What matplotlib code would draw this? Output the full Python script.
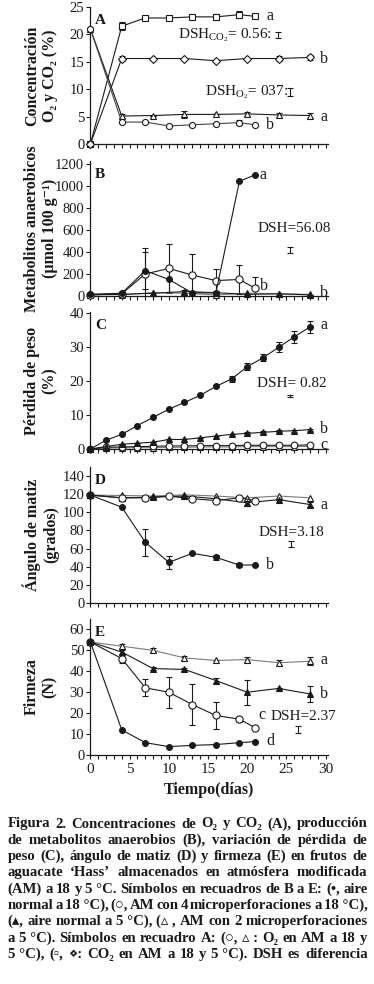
import matplotlib
matplotlib.use('Agg')
import matplotlib.pyplot as plt

plt.rcParams['font.family'] = ['Liberation Serif', 'DejaVu Serif', 'DejaVu Sans']
plt.rcParams['mathtext.fontset'] = 'custom'
plt.rcParams['mathtext.rm'] = 'Liberation Serif'
plt.rcParams['mathtext.it'] = 'Liberation Serif:italic'
plt.rcParams['mathtext.bf'] = 'Liberation Serif:bold'

INK = '#1a1a1a'
GRAY = '#7a7a7a'

# ---------------- data ----------------
days18 = [0, 4, 7, 10, 13, 16, 19, 21]
days5 = [0, 4, 8, 12, 16, 20, 24, 28]
daysC = [0, 2, 4, 6, 8, 10, 12, 14, 16, 18, 20, 22, 24, 26, 28]

# Panel A: O2 and CO2 (%)
A_co2_18 = [0, 21.5, 23.0, 23.0, 23.2, 23.2, 23.6, 23.3]
A_co2_18_err = [0, 0.7, 0, 0, 0, 0.5, 0.6, 0]
A_co2_5 = [0, 15.6, 15.6, 15.6, 15.2, 15.6, 15.6, 15.8]
A_co2_5_err = [0, 0.5, 0, 0, 0, 0, 0.5, 0.5]
A_o2_5 = [21.0, 5.1, 5.2, 5.4, 5.4, 5.5, 5.3, 5.2]
A_o2_5_err = [0, 0.3, 0, 0.6, 0, 0.3, 0.4, 0.4]
A_o2_18 = [21.0, 4.0, 4.0, 3.3, 3.5, 3.7, 3.9, 3.5]
A_o2_18_err = [0, 0, 0, 0, 0, 0, 0.4, 0]

# Panel B: anaerobic metabolites
B_air18 = [15, 25, 230, 150, 28, 28, 1040, 1100]
B_air18_err = [0, 0, 165, 110, 20, 20, 0, 0]
B_map18 = [10, 20, 200, 250, 190, 140, 150, 70]
B_map18_err = [0, 0, 240, 220, 195, 105, 135, 105]
B_air5 = [15, 15, 25, 40, 30, 15, 20, 10]
B_air5_err = [0, 0, 0, 15, 0, 0, 10, 0]
B_map5 = [10, 12, 30, 25, 10, 25, 20, 15]

# Panel C: weight loss (%)
C_air18 = [0, 2.6, 4.3, 6.9, 9.3, 11.7, 13.7, 15.8, 18.4, 20.6, 24.2, 26.8, 29.9, 33.0, 35.9]
C_air18_err = [0, 0, 0, 0, 0, 0, 0, 0, 0, 0.8, 1.0, 1.0, 1.5, 1.8, 1.8]
C_air5 = [0, 0.7, 1.4, 1.7, 2.0, 2.8, 2.8, 3.3, 3.8, 4.3, 4.6, 4.9, 5.2, 5.4, 5.7]
C_air5_err = [0, 0, 0, 0, 0, 0, 0, 0, 0, 0, 0.3, 0.3, 0.3, 0.3, 0.3]
C_map18 = [0, 0.5, 0.6, 0.7, 0.8, 0.9, 0.9, 1.0, 1.0, 1.0, 1.1, 1.1, 1.1, 1.1, 1.2]
C_map5 = [0, 0.3, 0.3, 0.4, 0.4, 0.5, 0.5, 0.6, 0.6, 0.6, 0.7, 0.7, 0.7, 0.7, 0.8]

# Panel D: hue angle
D_air18 = [119, 105.7, 67, 44.8, 54.8, 50.4, 41.8, 42]
D_air18_err = [0, 0, 15, 7, 0, 2.5, 2, 0]
D_map18 = [119, 116, 116, 117.9, 115, 113, 116, 113]
D_map5 = [119, 118.6, 118, 119.3, 118, 116, 118, 116]
D_air5 = [119, 116, 116.8, 118, 115, 110.5, 114, 108.6]
D_air5_err = [0, 0, 0, 0, 0, 3, 0, 3]

# Panel E: firmness (N)
E_map5 = [54, 52, 50, 46.4, 45.2, 45.6, 44.1, 44.8]
E_map5_err = [0, 1.2, 1, 1, 0, 1.2, 1.3, 2]
E_air5 = [54, 49.2, 41.3, 40.9, 35.6, 30.0, 31.8, 29.2]
E_air5_err = [0, 1.2, 0.8, 0.8, 1.2, 6, 0, 3.8]
E_map18 = [54, 46.1, 32.1, 30.0, 24.1, 18.9, 17.1, 13.1]
E_map18_err = [0, 2, 4, 7.5, 9.6, 6.5, 1.2, 0]
E_air18 = [54, 12, 5.9, 4.0, 4.6, 5.0, 5.9, 6.4]

panel_letters = ['A', 'B', 'C', 'D', 'E']
ylabels = ['Concentración\nO₂ y CO₂ (%)',
           'Metabolitos anaerobicos\n(µmol 100 g⁻¹)',
           'Pérdida de peso\n(%)',
           'Ángulo de matiz\n(grados)',
           'Firmeza\n(N)']
yticks = [[0, 5, 10, 15, 20, 25],
          [0, 200, 400, 600, 800, 1000, 1200],
          [0, 10, 20, 30, 40],
          [0, 20, 40, 60, 80, 100, 120, 140],
          [0, 10, 20, 30, 40, 50, 60]]
ylims = [(0, 25), (0, 1225), (0, 40.3), (0, 150), (0, 65)]
xticks_major = [0, 5, 10, 15, 20, 25, 30]
xlabel = 'Tiempo(días)'

caption = [
    'Figura 2. Concentraciones de O₂ y CO₂ (A), producción',
    'de metabolitos anaerobios (B), variación de pérdida de',
    'peso (C), ángulo de matiz (D) y firmeza (E) en frutos de',
    'aguacate ‘Hass’ almacenados en atmósfera modificada',
    '(AM) a 18 y 5\u00a0°C. Símbolos en recuadros de B a E: (•, aire',
    'normal a 18\u00a0°C), (○, AM con 4 microperforaciones a 18\u00a0°C),',
    '(▴, aire normal a 5\u00a0°C), (▵\u00a0, AM con 2 microperforaciones',
    'a 5\u00a0°C). Símbolos en recuadro A: (○, ▵\u00a0: O₂ en AM a 18 y',
    '5\u00a0°C), (▫, ⋄: CO₂ en AM a 18 y 5\u00a0°C). DSH es diferencia',
]

# ---------------- figure ----------------
W, H = 374, 984
fig = plt.figure(figsize=(W / 100, H / 100), dpi=100)

xl, xr = 90, 328
panel_px = [(7, 144), (161, 296), (312, 449), (467, 603), (619, 755)]  # top, bottom px
axes = []
for (t, b) in panel_px:
    ax = fig.add_axes([xl / W, 1 - b / H, (xr - xl) / W, (b - t) / H])
    axes.append(ax)

for i, ax in enumerate(axes):
    ax.set_xlim(-0.05, 30.3)
    ax.set_ylim(*ylims[i])
    for s in ['top', 'right']:
        ax.spines[s].set_visible(False)
    for s in ['left', 'bottom']:
        ax.spines[s].set_linewidth(0.9)
        ax.spines[s].set_color(INK)
    ax.set_yticks(yticks[i])
    ax.set_xticks(xticks_major)
    ax.set_xticks(range(0, 31), minor=True)
    ax.tick_params(axis='both', which='both', direction='out', length=2.6, width=0.8,
                   color=INK, labelcolor=INK, labelsize=10.5, pad=1.5)
    if i < 4:
        ax.tick_params(axis='x', labelbottom=False)
    ax.patch.set_alpha(0)
    ax.text(0.022, 0.95, panel_letters[i], transform=ax.transAxes, fontsize=11,
            fontweight='bold', color=INK, va='top', ha='left')
    t, b = panel_px[i]
    fig.text(41 / W, 1 - (t + b) / 2 / H, ylabels[i], rotation=90, ha='center', va='center',
             multialignment='center', fontsize=11.5, fontweight='bold', color=INK,
             linespacing=1.15)

axes[4].tick_params(axis='x', labelsize=11, pad=3)
fig.text((xl + xr) / 2 / W, 1 - 790 / H, xlabel, ha='center', va='center',
         fontsize=11.5, fontweight='bold', color=INK)


def series(ax, x, y, err=None, marker='o', fc='white', ms=4.5, color=INK, ecol=INK):
    ax.plot(x, y, color=color, lw=0.8, marker=marker, ms=ms, mfc=fc, mec=ecol,
            mew=0.8, clip_on=False, zorder=3)
    if err is not None:
        ax.errorbar(x, y, yerr=err, fmt='none', ecolor=INK, elinewidth=0.8,
                    capsize=2.2, capthick=0.8, zorder=2)


def dsh(ax, tx, ty, label, bx, by, length):
    ax.text(tx, ty, label, fontsize=11, color=INK, ha='left', va='center')
    ax.errorbar([bx], [by], yerr=[length / 2], fmt='none', ecolor=INK,
                elinewidth=0.8, capsize=2.2, capthick=0.8)


def lab(ax, x, y, s):
    ax.text(x, y, s, fontsize=11.5, color=INK, ha='left', va='center')


# Panel A
ax = axes[0]
series(ax, days18, A_co2_18, A_co2_18_err, marker='s', ms=4.4)
series(ax, days5, A_co2_5, A_co2_5_err, marker='D', ms=4.0)
series(ax, days5, A_o2_5, A_o2_5_err, marker='^', ms=4.8)
series(ax, days18, A_o2_18, A_o2_18_err, marker='o', ms=4.4, color='#444444')
lab(ax, 22.4, 23.3, 'a')
lab(ax, 29.3, 15.6, 'b')
lab(ax, 29.3, 5.0, 'a')
lab(ax, 22.4, 3.4, 'b')
dsh(ax, 11.2, 19.9, 'DSH$_{\\mathrm{CO_2}}$= 0.56:', 23.9, 19.9, 1.2)
dsh(ax, 14.6, 9.5, 'DSH$_{\\mathrm{O_2}}$= 037:', 25.5, 9.5, 1.3)

# Panel B
ax = axes[1]
series(ax, days5, B_map5, None, marker='^', ms=4.8, color=GRAY)
series(ax, days5, B_air5, B_air5_err, marker='^', fc=INK, ms=4.4)
series(ax, days18, B_map18, B_map18_err, marker='o', ms=5.2)
series(ax, days18, B_air18, B_air18_err, marker='o', fc=INK, ms=4.2)
lab(ax, 21.6, 1100, 'a')
lab(ax, 21.6, 90, 'b')
lab(ax, 29.3, 30, 'b')
dsh(ax, 21.3, 615, 'DSH=56.08', 25.4, 420, 56.08)

# Panel C
ax = axes[2]
series(ax, daysC, C_map5, None, marker='^', ms=4.8, color=GRAY)
series(ax, daysC, C_map18, None, marker='o', ms=4.8)
series(ax, daysC, C_air5, C_air5_err, marker='^', fc=INK, ms=4.4)
series(ax, daysC, C_air18, C_air18_err, marker='o', fc=INK, ms=4.2)
lab(ax, 29.3, 36.5, 'a')
lab(ax, 29.3, 6.0, 'b')
lab(ax, 29.3, 1.2, 'c')
dsh(ax, 21.3, 19.4, 'DSH= 0.82', 25.4, 15.6, 0.82)

# Panel D
ax = axes[3]
series(ax, days5, D_map5, None, marker='^', ms=4.8, color=GRAY)
series(ax, days5, D_air5, D_air5_err, marker='^', fc=INK, ms=4.4)
series(ax, days18, D_map18, None, marker='o', ms=5.2)
series(ax, days18, D_air18, D_air18_err, marker='o', fc=INK, ms=4.2)
lab(ax, 29.3, 108, 'a')
lab(ax, 22.4, 42, 'b')
dsh(ax, 21.5, 78, 'DSH=3.18', 25.6, 65, 7.5)

# Panel E
ax = axes[4]
series(ax, days5, E_map5, E_map5_err, marker='^', ms=4.8, color=GRAY)
series(ax, days5, E_air5, E_air5_err, marker='^', fc=INK, ms=4.4)
series(ax, days18, E_map18, E_map18_err, marker='o', ms=5.2)
series(ax, days18, E_air18, None, marker='o', fc=INK, ms=4.2)
lab(ax, 29.3, 45.2, 'a')
lab(ax, 29.3, 29.0, 'b')
lab(ax, 21.4, 19.0, 'c')
lab(ax, 22.4, 6.6, 'd')
dsh(ax, 23.0, 18.6, 'DSH=2.37', 26.5, 12.2, 2.9)

# ---------------- caption (justified) ----------------
renderer = fig.canvas.get_renderer()
cx0, cx1 = 7.5, 367.5
base0, step = 827.5, 16.3
cap_kw = dict(fontweight='bold', color=INK, va='baseline', ha='left')


def measure(size):
    rows = []
    worst = 0
    for line in caption:
        words = line.split(' ')
        ts = [fig.text(0, 0, w, fontsize=size, **cap_kw) for w in words]
        ws = [t.get_window_extent(renderer).width for t in ts]
        rows.append((ts, ws))
        need = sum(ws) + 2.6 * (len(ws) - 1)
        worst = max(worst, need)
    return rows, worst


size = 12.0
rows, worst = measure(size)
if worst > (cx1 - cx0):
    for ts, _ in rows:
        for t in ts:
            t.remove()
    size = size * (cx1 - cx0) / worst
    rows, worst = measure(size)

for i, (ts, ws) in enumerate(rows):
    gap = ((cx1 - cx0) - sum(ws)) / max(len(ws) - 1, 1)
    x = cx0
    yb = 1 - (base0 + i * step) / H
    for t, w in zip(ts, ws):
        t.set_position((x / W, yb))
        x += w + gap

fig.savefig('out.png', dpi=100)
